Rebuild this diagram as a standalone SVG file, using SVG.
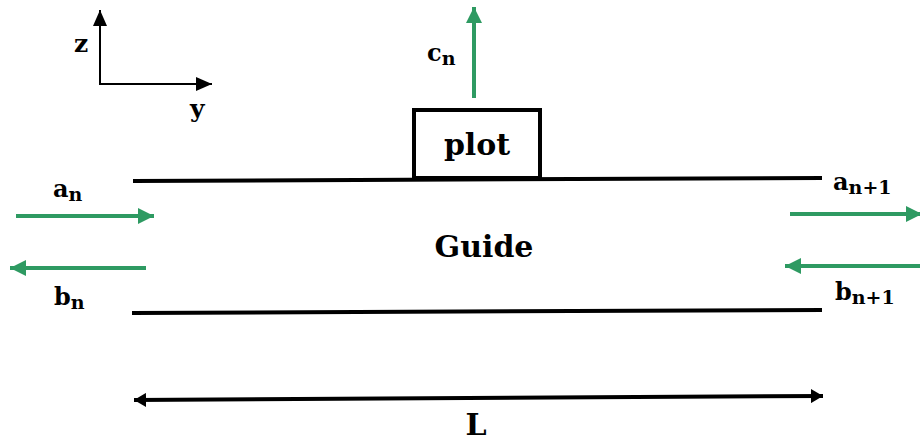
<svg xmlns="http://www.w3.org/2000/svg" width="920" height="441" viewBox="0 0 920 441">
<style>
text{font-family:'DejaVu Serif','Liberation Serif','Times New Roman',serif;font-weight:700;fill:#000}
.ax-l{font-size:25px}
.lbl{font-size:24px}
.sub{font-size:19px}
.big{font-size:30px}
.g{stroke:#2e9a62;stroke-width:4;fill:none}
.k{stroke:#000;stroke-width:4;fill:none}
.ax{stroke:#000;stroke-width:2;fill:none}
</style>
<defs>
<marker id="ga" viewBox="0 0 16 16" refX="16" refY="8" markerWidth="16" markerHeight="16" markerUnits="userSpaceOnUse" orient="auto"><path d="M0,0 L16,8 L0,16 Z" fill="#2e9a62"/></marker>
<marker id="ka" viewBox="0 0 16 14" refX="16" refY="7" markerWidth="16" markerHeight="14" markerUnits="userSpaceOnUse" orient="auto"><path d="M0,0 L16,7 L0,14 Z" fill="#000"/></marker>
<marker id="la" viewBox="0 0 12 14" refX="12" refY="7" markerWidth="12" markerHeight="14" markerUnits="userSpaceOnUse" orient="auto-start-reverse"><path d="M0,0 L12,7 L0,14 Z" fill="#000"/></marker>
</defs>
<g id="axes">
<line class="ax" x1="100" y1="84" x2="100" y2="10" marker-end="url(#ka)"/>
<line class="ax" x1="99" y1="84" x2="212" y2="84" marker-end="url(#ka)"/>
<text class="ax-l" x="74" y="52">z</text>
<text class="ax-l" x="190" y="117">y</text>
</g>
<g id="guide">
<line class="k" x1="133" y1="181" x2="822" y2="178"/>
<line class="k" x1="132" y1="313" x2="822" y2="310"/>
<text class="big" x="484" y="257" text-anchor="middle">Guide</text>
</g>
<g id="plot">
<rect x="414" y="110" width="126" height="68" fill="#fff" stroke="#000" stroke-width="4"/>
<text class="big" x="477" y="155" text-anchor="middle">plot</text>
</g>
<g id="connectors">
<line class="g" x1="474" y1="98" x2="474" y2="7" marker-end="url(#ga)"/>
<line class="g" x1="16" y1="216" x2="154" y2="216" marker-end="url(#ga)"/>
<line class="g" x1="146" y1="268" x2="10" y2="268" marker-end="url(#ga)"/>
<line class="g" x1="790" y1="214" x2="922" y2="214" marker-end="url(#ga)"/>
<line class="g" x1="920" y1="266" x2="785" y2="266" marker-end="url(#ga)"/>
<line class="k" x1="134" y1="400" x2="823" y2="396" marker-start="url(#la)" marker-end="url(#la)"/>
</g>
<g id="labels">
<text class="lbl" x="427" y="61">c<tspan class="sub" dy="4">n</tspan></text>
<text class="lbl" x="53" y="197">a<tspan class="sub" dy="4">n</tspan></text>
<text class="lbl" x="54" y="305">b<tspan class="sub" dy="4">n</tspan></text>
<text class="lbl" x="833" y="190">a<tspan class="sub" dy="4">n+1</tspan></text>
<text class="lbl" x="835" y="300">b<tspan class="sub" dy="4">n+1</tspan></text>
<text class="big" x="476" y="435" text-anchor="middle" font-size="33">L</text>
</g>
</svg>
